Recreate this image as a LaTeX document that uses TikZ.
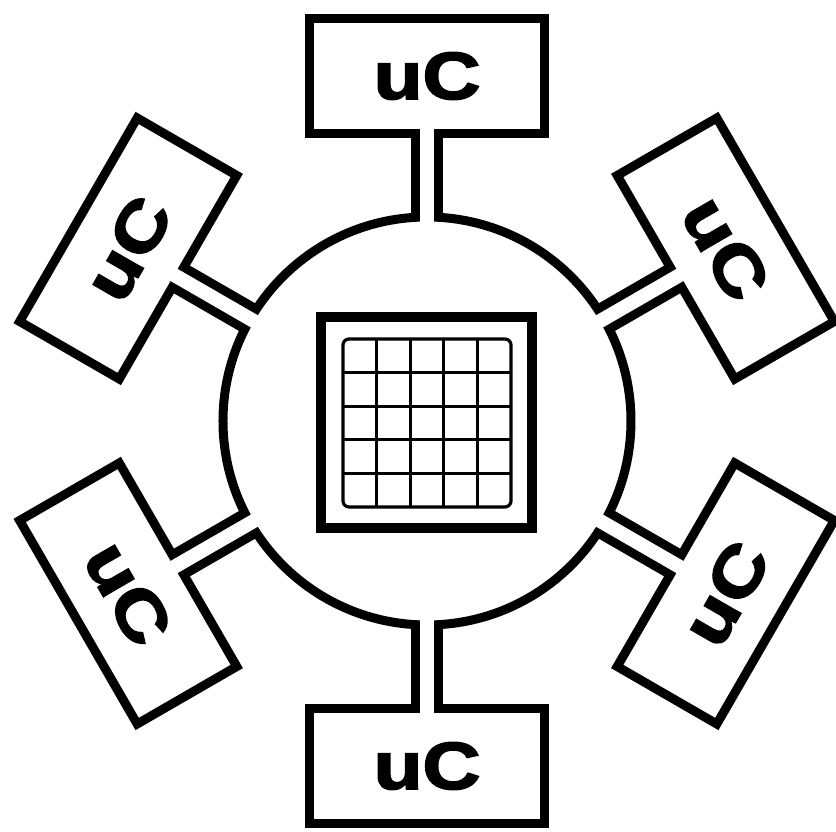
\documentclass[tikz,border=0pt]{standalone}
\usepackage{fontspec}
\usepackage{graphicx}
\usepackage{tikz}
\usetikzlibrary{positioning}
\newfontfamily\ucfont[BoldFeatures={FakeBold=2.5}]{Liberation Sans}
\tikzset{
  hub/.style={circle, draw=black, line width=0.9mm, minimum size=40.8mm, inner sep=0pt},
  ucbox/.style={rectangle, draw=black, line width=0.9mm, minimum width=23.5mm,
                minimum height=11.5mm, inner sep=0pt,
                font=\ucfont\bfseries\fontsize{19}{19}\selectfont},
  % stems: black band, then a white core that opens the two borders
  stemout/.style={line width=3.2mm, draw=black, shorten <=-0.2mm, shorten >=-0.2mm},
  stemin/.style={line width=1.4mm, draw=white, shorten <=-1.3mm, shorten >=-1.3mm},
  chip/.style={rectangle, draw=black, line width=1mm, minimum size=21.1mm, inner sep=0pt},
  cell/.style={draw=black, line width=0.32mm},
}

\begin{document}
\begin{tikzpicture}
  \useasboundingbox (-42.7mm,-41.1mm) rectangle (40.9mm,42.1mm);
  % ring and chip
  \node[hub] (hub) at (0,0) {};
  \node[chip] (chip) at (0,-0.2mm) {};
  % 5x5 cell array
  \draw[cell, rounded corners=0.6mm] ([shift={(-8.4mm,-8.4mm)}]chip.center)
    rectangle ([shift={(8.4mm,8.4mm)}]chip.center);
  \foreach \k in {1,...,4}{
    \draw[cell] ([shift={(-8.4mm+\k*3.36mm,-8.4mm)}]chip.center) -- ++(0,16.8mm);
    \draw[cell] ([shift={(-8.4mm,-8.4mm+\k*3.36mm)}]chip.center) -- ++(16.8mm,0);
  }
  % controllers round the ring
  \foreach \a/\r [count=\i] in {90/0,150/60,210/-60,270/0,330/60,30/-60}{
    \node[ucbox, rotate=\r] (uc\i) at (\a:34.5mm) {\scalebox{1.2}[1]{uC}};
    \draw[stemout] (hub) -- (uc\i);
    \draw[stemin] (hub) -- (uc\i);
  }
\end{tikzpicture}
\end{document}
